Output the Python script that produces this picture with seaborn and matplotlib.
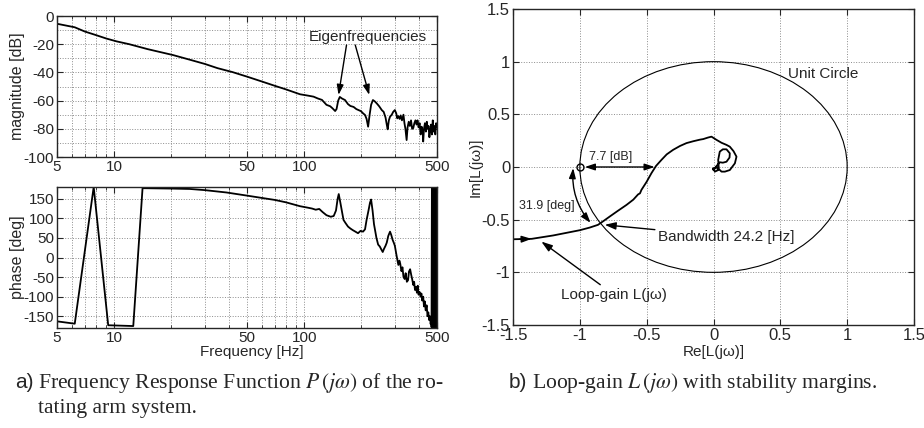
import numpy as np
import pandas as pd
import matplotlib
matplotlib.use("Agg")
import matplotlib.pyplot as plt
from matplotlib.ticker import FixedLocator, FixedFormatter, NullFormatter, MultipleLocator, NullLocator, LogLocator
from matplotlib.patches import Circle
import seaborn as sns

# magnitude of P(jw) [dB]
mag_freq = [5, 6.2, 7, 8, 9.1, 10.3, 12, 15, 20.4, 25, 30, 35, 42, 50, 60, 70, 80, 95, 105, 112,
            118, 124, 128, 131, 137, 141, 145.5, 148, 151, 154, 158, 164, 170, 175, 182, 188, 193,
            199, 204, 209, 213, 217, 221, 225, 230, 235, 241, 248, 256, 262, 268, 272, 275, 279,
            283, 289, 294, 300, 305, 309, 313, 318, 322, 327, 333, 337, 341, 346, 350, 355, 360,
            365, 370, 375, 380, 385, 390, 395, 400, 405, 410, 415, 420, 423, 427, 432, 437, 442,
            446, 451, 456, 460, 465, 470, 475, 480, 485, 490, 495, 500]
mag_db = [-5.5, -8, -11, -13.5, -16, -18, -20, -23.5, -27.7, -31, -34, -37, -39.8, -43, -46.5,
          -49.5, -52, -55.5, -56.5, -57.2, -58.5, -59.5, -61.5, -63, -64, -65.5, -67.4, -66, -60,
          -57.4, -58.5, -59.6, -62.5, -63.8, -64.5, -66, -66.7, -67.5, -69, -70.2, -73, -78.5,
          -70, -63, -59.6, -60.5, -62, -64, -66.7, -68, -72, -77, -80.4, -74, -71.4, -70, -68,
          -66.7, -69, -72.6, -71, -73, -70.5, -74, -70, -76, -80, -88, -79, -75, -78, -74, -80,
          -79.5, -76, -74, -77, -74, -79, -76, -84, -78.5, -82, -89, -80, -76, -82, -75, -80,
          -78, -86, -81.5, -77, -84, -74, -82, -78, -84, -76, -79]

# phase of P(jw) [deg]
phase_freq = [5, 6.2, 7.8, 9.3, 12.6, 14.1, 20, 25, 30, 39, 50, 60, 70, 80, 95, 105, 110, 115,
              120, 125, 131, 138, 143, 147, 150, 152, 155, 161, 165, 170, 175, 180, 186, 192, 198,
              204, 209, 213, 218, 222, 225, 229, 233, 236, 240, 245, 250, 255, 259, 263, 268, 272,
              277, 283, 287, 292, 296, 300, 305, 309, 313, 317, 320, 325, 329, 333, 338, 342, 347,
              352, 356, 361, 366, 370, 375, 379, 383, 388, 392, 396, 400, 405, 410, 414, 418, 423,
              427, 431, 436, 441, 446, 450, 455, 459, 463, 466, 468, 470, 472, 474, 476, 478, 480,
              482, 484, 486, 488, 490, 492, 494, 496, 498, 500]
phase_deg = [-163, -169, 180, -173, -175, 177, 176, 175, 172, 166, 158, 152, 147, 141, 131, 127,
             125, 122, 124, 116, 108, 104, 106, 120, 150, 162, 140, 96, 88, 79, 74, 70, 66, 62, 68,
             66, 72, 96, 120, 140, 148, 120, 85, 70, 50, 33, 28, 20, 14, 22, 30, 38, 55, 66, 58,
             45, 38, 30, 10, -5, -19, -8, -15, -35, -25, -49, -55, -40, -62, -58, -36, -30, -45,
             -55, -70, -62, -83, -75, -90, -72, -95, -88, -100, -92, -110, -100, -125, -112, -135,
             -122, -150, -140, -160, -150, -170, -160, -178, 178, -178, 175, -176, 178, -179, 176,
             -177, 179, -175, 177, -178, 178, -176, 179, -177]

# loop-gain L(jw) in the complex plane
nyq_re = [-1.5, -1.36, -1.3, -1.2, -1.1, -1.0, -0.926, -0.864, -0.82, -0.776, -0.72, -0.651,
          -0.6, -0.564, -0.55, -0.539, -0.5, -0.464, -0.43, -0.389, -0.35, -0.302, -0.25, -0.202,
          -0.15, -0.1, -0.077, -0.04, -0.015, 0.022, 0.06, 0.097, 0.122, 0.15, 0.172, 0.16, 0.122,
          0.085, 0.06, 0.04, 0.035, 0.047, 0.07, 0.097, 0.122, 0.12, 0.097, 0.07, 0.047, 0.03,
          0.01, 0.0, 0.01, 0.035, 0.022, 0.0, -0.005, 0.01]
nyq_im = [-0.686, -0.682, -0.67, -0.65, -0.625, -0.6, -0.575, -0.549, -0.51, -0.47, -0.42,
          -0.36, -0.31, -0.26, -0.25, -0.217, -0.14, -0.058, 0.01, 0.068, 0.12, 0.163, 0.2, 0.227,
          0.245, 0.26, 0.265, 0.28, 0.288, 0.258, 0.23, 0.21, 0.193, 0.15, 0.098, 0.035, -0.029,
          -0.044, -0.044, -0.02, 0.067, 0.146, 0.168, 0.168, 0.13, 0.09, 0.05, 0.041, 0.045, 0.02,
          -0.01, -0.013, -0.044, -0.029, 0.003, -0.029, -0.02, -0.01]

freq_ticks = [5, 10, 50, 100, 500]
freq_labels = ["5", "10", "50", "100", "500"]
mag_ticks = [0, -20, -40, -60, -80, -100]
phase_ticks = [150, 100, 50, 0, -50, -100, -150]
nyq_ticks = [-1.5, -1, -0.5, 0, 0.5, 1, 1.5]
nyq_labels = ["-1.5", "-1", "-0.5", "0", "0.5", "1", "1.5"]

sns.set_style("ticks")
plt.rcParams['font.family'] = ['Liberation Sans', 'DejaVu Sans']
plt.rcParams['mathtext.fontset'] = 'stix'
plt.rcParams['axes.unicode_minus'] = False

fig = plt.figure(figsize=(9.24, 4.28), dpi=100)
ax1 = fig.add_axes([57/924, 1-157/428, 380/924, 141/428])
ax2 = fig.add_axes([57/924, 1-328/428, 380/924, 141/428])
ax3 = fig.add_axes([513/924, 1-325/428, 401/924, 316/428])

grid_kw = dict(ls=':', color='0.55', lw=0.7)

# magnitude
sns.lineplot(x=mag_freq, y=mag_db, ax=ax1, color='black', lw=1.3, estimator=None, sort=False)
# phase
sns.lineplot(x=phase_freq, y=phase_deg, ax=ax2, color='black', lw=1.3, estimator=None, sort=False)

for ax in (ax1, ax2):
    ax.set_xscale('log')
    ax.set_xlim(5, 500)
    ax.xaxis.set_major_locator(FixedLocator(freq_ticks))
    ax.xaxis.set_major_formatter(FixedFormatter(freq_labels))
    ax.xaxis.set_minor_locator(LogLocator(base=10, subs=np.arange(2, 10)))
    ax.xaxis.set_minor_formatter(NullFormatter())
    ax.tick_params(which='both', direction='in', top=True, right=True, labelsize=11, pad=2)
    ax.tick_params(which='major', length=4)
    ax.tick_params(which='minor', length=2)
    ax.grid(True, which='both', **grid_kw)
    for s in ax.spines.values():
        s.set_linewidth(1.0)

ax1.set_ylim(-100, 0)
ax1.yaxis.set_major_locator(FixedLocator(mag_ticks))
ax1.yaxis.set_minor_locator(MultipleLocator(10))
ax1.tick_params(axis='y', which='minor', length=0)
ax1.set_ylabel('magnitude [dB]', fontsize=11.5)
ax1.yaxis.set_label_coords(-0.084, 0.5)
ax1.set_xlabel('')

ax2.set_ylim(-180, 180)
ax2.yaxis.set_major_locator(FixedLocator(phase_ticks))
ax2.yaxis.set_minor_locator(NullLocator())
ax2.set_ylabel('phase [deg]', fontsize=11.5)
ax2.yaxis.set_label_coords(-0.084, 0.5)
ax2.set_xlabel('Frequency [Hz]', fontsize=11)
ax2.xaxis.set_label_coords(0.513, -0.12)

arrow_kw = dict(arrowstyle='-|>,head_length=0.6,head_width=0.2', color='black', lw=1,
                shrinkA=0, shrinkB=0)
ax1.text(216, -15, 'Eigenfrequencies', ha='center', va='center', fontsize=11)
ax1.annotate('', xy=(151.6, -56), xytext=(167, -20.6), arrowprops=arrow_kw)
ax1.annotate('', xy=(220, -56), xytext=(185.7, -20.6), arrowprops=arrow_kw)

# Nyquist
ax3.add_patch(Circle((0, 0), 1, fill=False, color='black', lw=0.8))
sns.lineplot(x=nyq_re, y=nyq_im, ax=ax3, color='black', lw=1.3, estimator=None, sort=False)
ax3.plot([-1], [0], marker='o', ms=5, mfc='none', mec='black', mew=1)
ax3.set_xlim(-1.5, 1.5)
ax3.set_ylim(-1.5, 1.5)
ax3.xaxis.set_major_locator(FixedLocator(nyq_ticks))
ax3.xaxis.set_major_formatter(FixedFormatter(nyq_labels))
ax3.yaxis.set_major_locator(FixedLocator(nyq_ticks))
ax3.yaxis.set_major_formatter(FixedFormatter(nyq_labels))
ax3.tick_params(which='both', direction='in', top=True, right=True, labelsize=12, pad=2, length=4)
ax3.grid(True, **grid_kw)
for s in ax3.spines.values():
    s.set_linewidth(1.0)
ax3.set_xlabel('Re[L(jω)]', fontsize=11)
ax3.xaxis.set_label_coords(0.5, -0.063)
ax3.set_ylabel('Im[L(jω)]', fontsize=11)
ax3.yaxis.set_label_coords(-0.075, 0.5)

dbl_kw = dict(arrowstyle='<|-|>,head_length=0.6,head_width=0.2', color='black', lw=1,
              shrinkA=0, shrinkB=0)
ax3.annotate('', xy=(-0.44, 0), xytext=(-0.963, 0), arrowprops=dbl_kw)
ax3.text(-0.766, 0.094, '7.7 [dB]', ha='center', va='center', fontsize=9)
ax3.annotate('', xy=(-1.05, -0.01), xytext=(-0.92, -0.53),
             arrowprops=dict(dbl_kw, connectionstyle='arc3,rad=-0.2'))
ax3.text(-1.245, -0.375, '31.9 [deg]', ha='center', va='center', fontsize=9)
ax3.annotate('Bandwidth 24.2 [Hz]', xy=(-0.814, -0.549), xytext=(-0.414, -0.66),
             ha='left', va='center', fontsize=11, arrowprops=arrow_kw)
ax3.annotate('Loop-gain L(jω)', xy=(-1.288, -0.708), xytext=(-1.138, -1.215),
             ha='left', va='center', fontsize=11, arrowprops=arrow_kw)
ax3.annotate('', xy=(-1.36, -0.682), xytext=(-1.45, -0.686), arrowprops=arrow_kw)
ax3.text(0.559, 0.885, 'Unit Circle', ha='left', va='center', fontsize=11)

# captions
cap_kw = dict(fontsize=15.6, va='center', family=['Liberation Serif', 'DejaVu Serif'])
fig.text(15/924, 1-383/428, 'a)', fontsize=15, va='center')
fig.text(38/924, 1-383/428, r'Frequency Response Function $P\,(j\omega)$ of the ro-', **cap_kw)
fig.text(38/924, 1-409/428, 'tating arm system.', **cap_kw)
fig.text(509/924, 1-383/428, 'b)', fontsize=15, va='center')
fig.text(532/924, 1-383/428, r'Loop-gain $L\,(j\omega)$ with stability margins.', **cap_kw)

plt.savefig('out.png', dpi=100)
